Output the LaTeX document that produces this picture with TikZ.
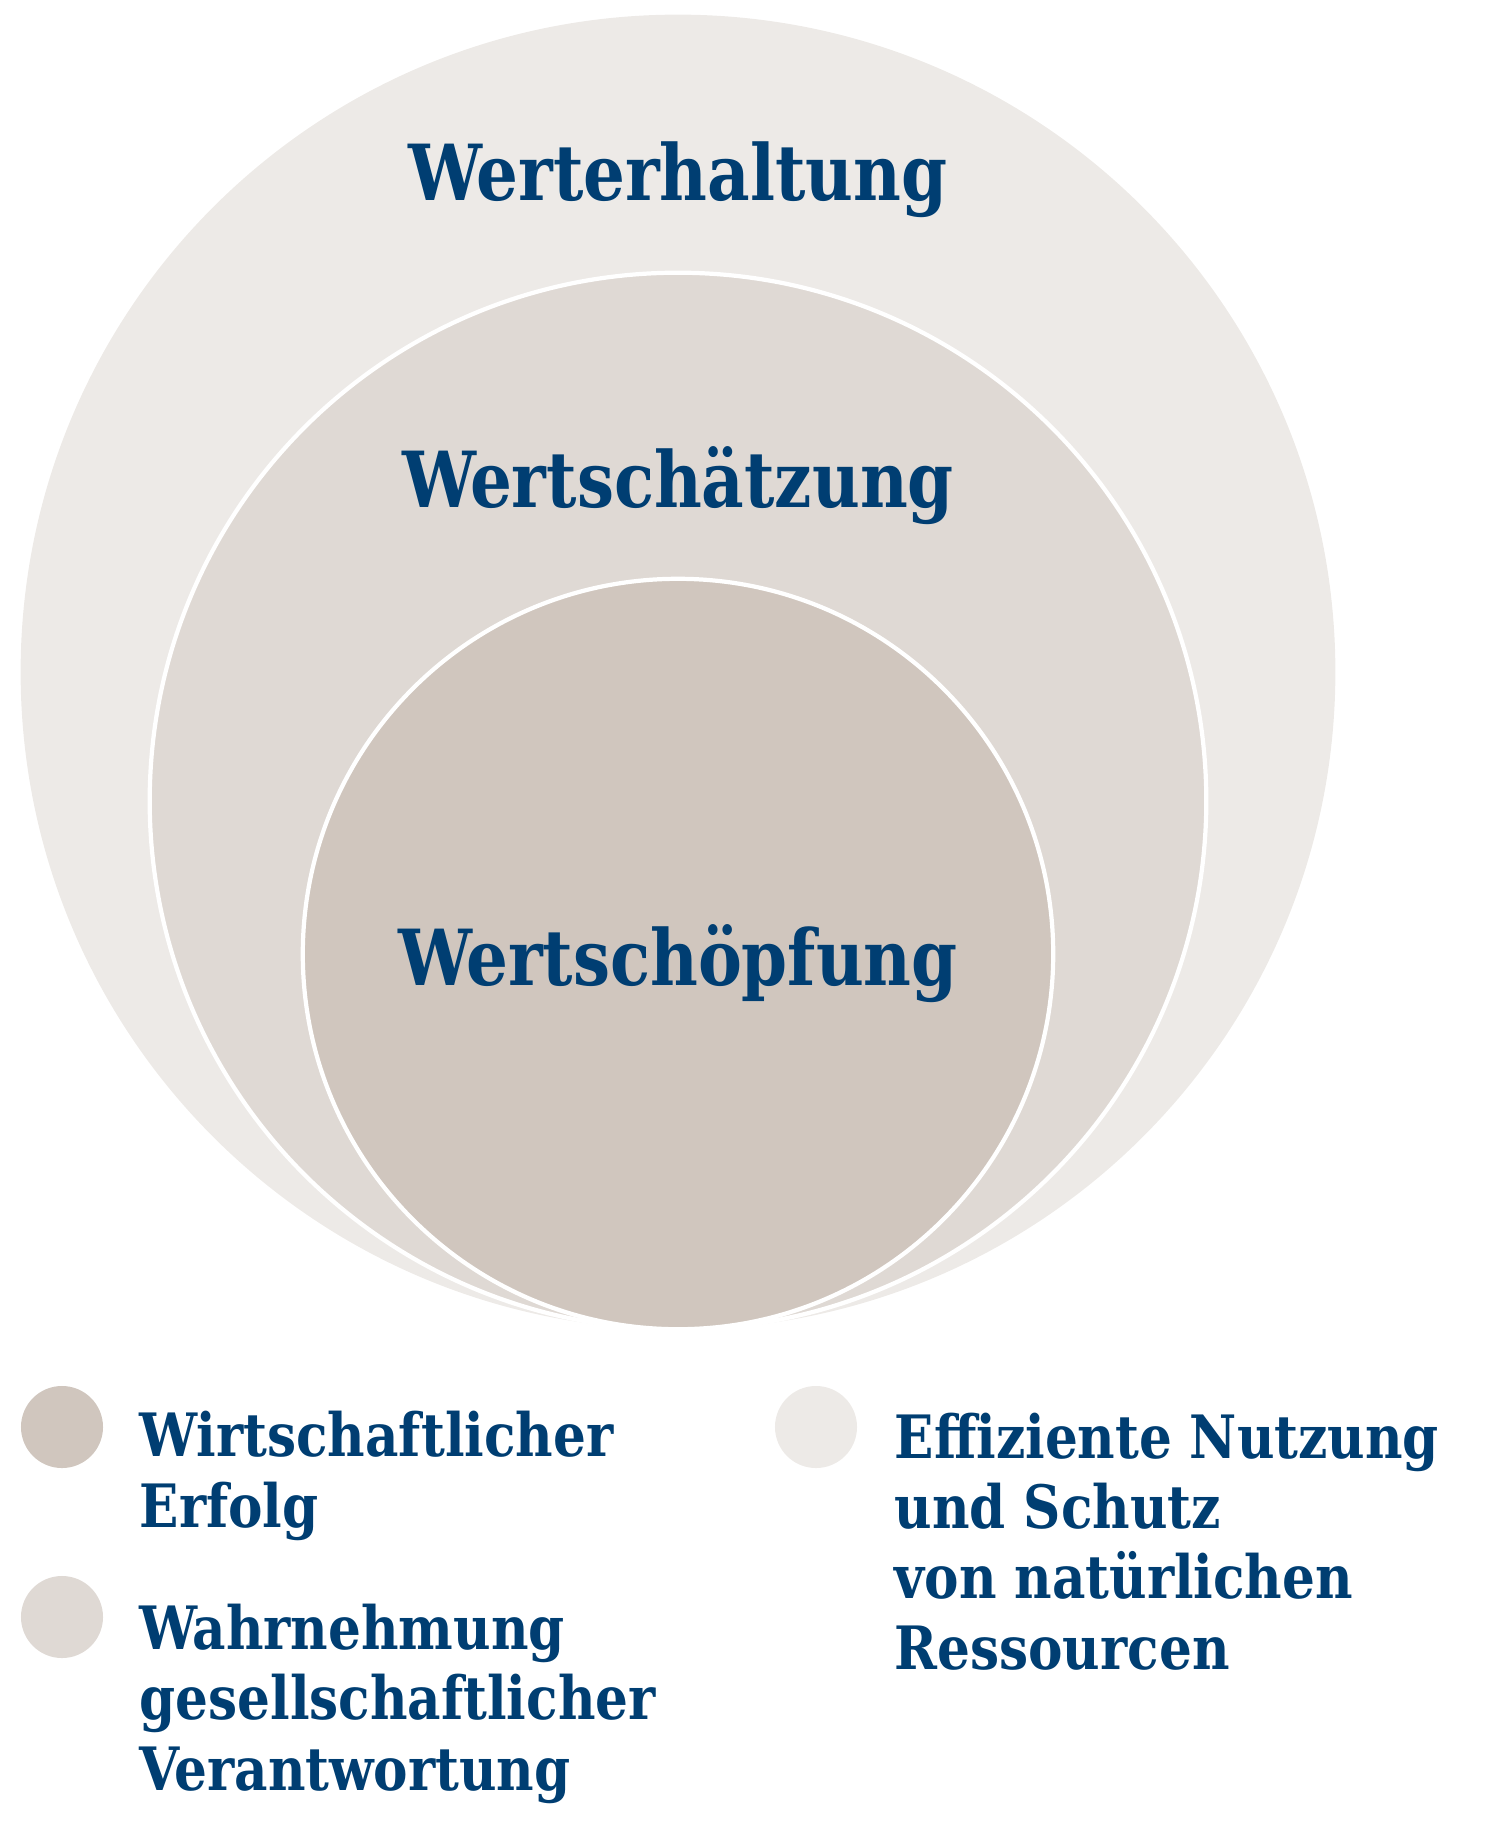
\documentclass[tikz,border=0pt]{standalone}
\usepackage{fontspec}
\setmainfont{DejaVu Serif}
\newfontfamily\titlefont[FakeStretch=0.945]{DejaVu Serif Condensed}
\newfontfamily\legendfont[FakeStretch=0.96]{DejaVu Serif Condensed}
\definecolor{ringlight}{RGB}{237,234,231}
\definecolor{ringmid}{RGB}{223,217,212}
\definecolor{ringdark}{RGB}{208,198,190}
\definecolor{textblue}{RGB}{0,62,114}
\usetikzlibrary{positioning}

\begin{document}
\begin{tikzpicture}[x=0.01cm, y=-0.01cm,
  ring/.style={circle, draw=white, line width=1.2pt, inner sep=0pt},
  ringtitle/.style={text=textblue, font=\titlefont\bfseries\fontsize{22}{26}\selectfont, anchor=base},
  dot/.style={circle, inner sep=0pt, minimum size=0.82cm},
  legendtext/.style={text=textblue, font=\legendfont\bfseries\fontsize{17}{20}\selectfont, align=left, anchor=base west, inner sep=0pt}
]
  \useasboundingbox (0,0) rectangle (1500,1821);

  % nested circles, all touching at the bottom
  \node[circle, fill=ringlight, inner sep=0pt, minimum size=13.14cm] (outer) at (678,672) {};
  \node[ring, fill=ringmid, minimum size=10.56cm] (middle) at (678,801) {};
  \node[ring, fill=ringdark, minimum size=7.5cm] (inner) at (678,954) {};

  \node[ringtitle] (erhaltung) at (678,200) {Werterhaltung};
  \node[ringtitle] (schaetzung) at (678,507) {Wertschätzung};
  \node[ringtitle] (schoepfung) at (678,985) {Wertschöpfung};

  % legend (base = baseline of the last line)
  \node[dot, fill=ringdark] (dotA) at (62,1427) {};
  \node[dot, fill=ringmid] (dotB) at (62,1617) {};
  \node[dot, fill=ringlight] (dotC) at (816,1427) {};

  \node[legendtext] (legA) at (139,1527) {Wirtschaftlicher\\Erfolg};
  \node[legendtext] (legB) at (139,1790) {Wahrnehmung\\gesellschaftlicher\\Verantwortung};
  \node[legendtext] (legC) at (894,1669) {Effiziente Nutzung\\und Schutz\\von natürlichen\\Ressourcen};
\end{tikzpicture}
\end{document}
